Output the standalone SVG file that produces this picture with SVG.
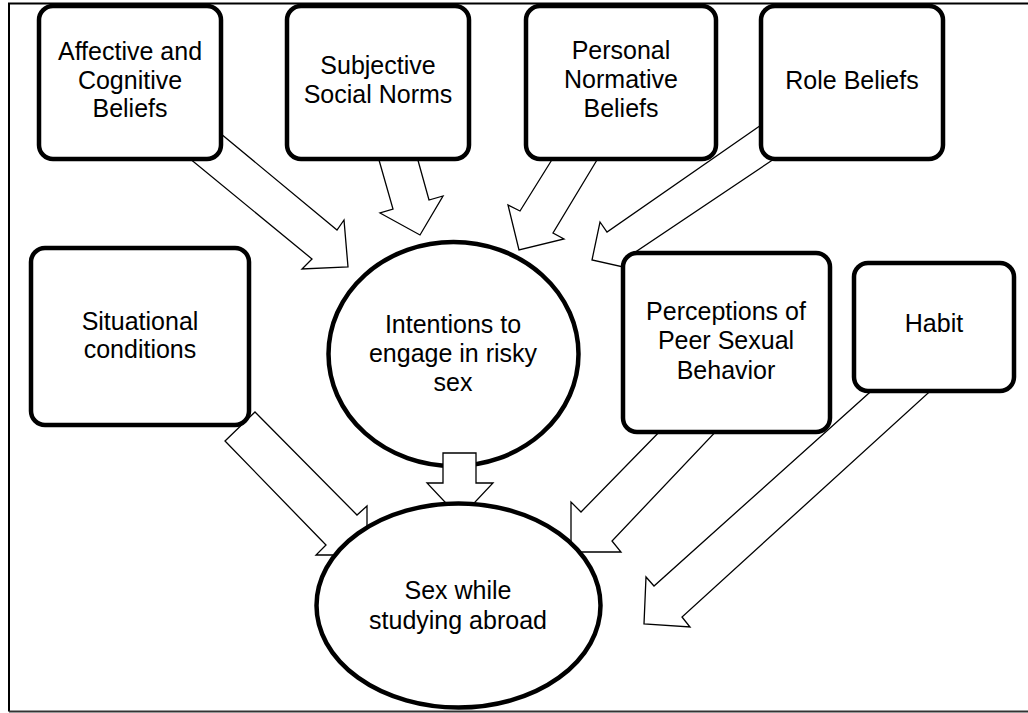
<svg xmlns="http://www.w3.org/2000/svg" width="1028" height="713" viewBox="0 0 1028 713">
<style>
.box{fill:#fff;stroke:#000;stroke-width:4.5}
.ell{fill:#fff;stroke:#000;stroke-width:4.5}
.arr{fill:#fff;stroke:#000;stroke-width:1.3;stroke-linejoin:miter}
.t{font-family:"Liberation Sans",Arial,sans-serif;font-size:25px;fill:#000;text-anchor:middle}
</style>
<rect width="1028" height="713" fill="#fff"/>
<path d="M1028 3.5H9V711.5" fill="none" stroke="#000" stroke-width="2"/>
<path d="M9 711.5H1028" fill="none" stroke="#333" stroke-width="2"/>

<g id="node-intentions">
<ellipse class="ell" cx="453.5" cy="354" rx="125" ry="112"/>
<text class="t" x="453" y="333">Intentions to</text>
<text class="t" x="453" y="362">engage in risky</text>
<text class="t" x="453" y="391">sex</text>
</g>

<g id="connectors">
<polygon class="arr" points="203,119 337,230 344,220 348,267 302,269 312,259 172,144"/>
<polygon class="arr" points="375,146 393,209 380,213 420,235 443,196 429,200 414,146"/>
<polygon class="arr" points="558,150 520,211 508,205 519,250 564,239 553,233 603,150"/>
<polygon class="arr" points="774,116 607,232 600,222 592,260 632,269 625,259 783,153"/>
<polygon class="arr" points="443,453 476,453 476,483 493,483 460,518 427,483 443,483"/>
<polygon class="arr" points="255,412 357,515 367,506 367,555 316,555 326,545 225,441"/>
<polygon class="arr" points="667,424 581,512 571,502 571,552 621,552 612,541 723,424"/>
<polygon class="arr" points="878,385 654,586 646,577 644,624 690,627 682,617 937,385"/>
</g>

<g id="node-sex">
<ellipse class="ell" cx="458.5" cy="605.5" rx="142" ry="102"/>
<text class="t" x="458" y="599">Sex while</text>
<text class="t" x="458" y="629">studying abroad</text>
</g>

<g id="node-affective">
<rect class="box" x="39" y="6" width="182" height="153" rx="14"/>
<text class="t" x="130" y="60">Affective and</text>
<text class="t" x="130" y="89">Cognitive</text>
<text class="t" x="130" y="117">Beliefs</text>
</g>

<g id="node-subjective">
<rect class="box" x="287" y="6" width="182" height="153" rx="14"/>
<text class="t" x="378" y="74">Subjective</text>
<text class="t" x="378" y="103">Social Norms</text>
</g>

<g id="node-personal">
<rect class="box" x="526" y="6" width="190" height="153" rx="14"/>
<text class="t" x="621" y="59">Personal</text>
<text class="t" x="621" y="88">Normative</text>
<text class="t" x="621" y="117">Beliefs</text>
</g>

<g id="node-role">
<rect class="box" x="761" y="6" width="182" height="153" rx="14"/>
<text class="t" x="852" y="89">Role Beliefs</text>
</g>

<g id="node-situational">
<rect class="box" x="31" y="248" width="218" height="177" rx="14"/>
<text class="t" x="140" y="330">Situational</text>
<text class="t" x="140" y="358">conditions</text>
</g>

<g id="node-perceptions">
<rect class="box" x="623" y="253" width="207" height="179" rx="14"/>
<text class="t" x="726" y="320">Perceptions of</text>
<text class="t" x="726" y="349">Peer Sexual</text>
<text class="t" x="726" y="379">Behavior</text>
</g>

<g id="node-habit">
<rect class="box" x="854" y="263" width="160" height="128" rx="14"/>
<text class="t" x="934" y="332">Habit</text>
</g>
</svg>
